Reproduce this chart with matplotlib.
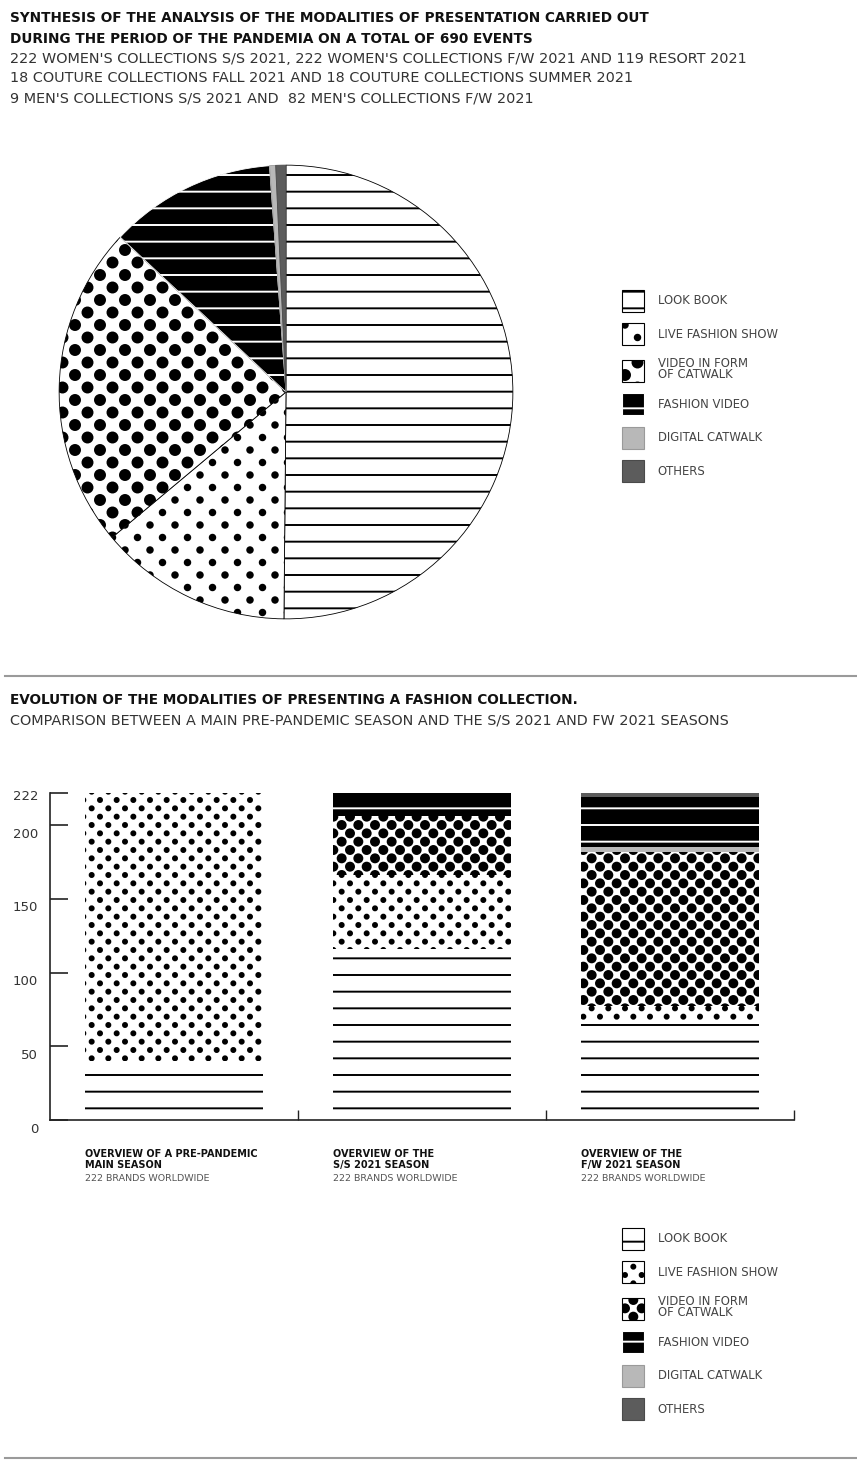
import numpy as np
import matplotlib
matplotlib.use("Agg")
import matplotlib.pyplot as plt
import matplotlib.hatch as mhatch
from matplotlib.path import Path
from matplotlib.patches import Patch
from matplotlib.lines import Line2D
from matplotlib.transforms import ScaledTranslation

# ---- data ----
legend_labels = ["LOOK BOOK", "LIVE FASHION SHOW", "VIDEO IN FORM\nOF CATWALK",
                 "FASHION VIDEO", "DIGITAL CATWALK", "OTHERS"]
# pie: 690 events, clockwise from 12 o'clock, same order as legend
pie_counts = [346, 95, 159, 82, 3, 5]

season_titles = ["OVERVIEW OF A PRE-PANDEMIC\nMAIN SEASON",
                 "OVERVIEW OF THE\nS/S 2021 SEASON",
                 "OVERVIEW OF THE\nF/W 2021 SEASON"]
season_notes = ["222 BRANDS WORLDWIDE", "222 BRANDS WORLDWIDE", "222 BRANDS WORLDWIDE"]
look_book = [40, 116, 68]
live_show = [182, 50, 9]
video_catwalk = [0, 40, 105]
digital_catwalk = [0, 0, 3]
fashion_video = [0, 16, 34]
others = [0, 0, 3]
y_ticks = [0, 50, 100, 150, 200, 222]

W, H = 857, 1461
plt.rcParams["font.family"] = ["DejaVu Sans"]
plt.rcParams["hatch.linewidth"] = 1.4


# filled dot hatches on a staggered grid (replace the stock circle hatches)
def dot_hatch(char, per_inch, size):
    class DotHatch(mhatch.HatchPatternBase):
        def __init__(self, hatch, density):
            self.n = hatch.count(char) * per_inch
            circle = Path.unit_circle()
            self.shape_vertices = circle.vertices
            self.shape_codes = circle.codes
            n = self.n
            self.num_shapes = (n + 1) ** 2 + n ** 2 if n else 0
            self.num_vertices = self.num_shapes * len(self.shape_vertices)

        def set_vertices_and_codes(self, vertices, codes):
            n = self.n
            step = 1.0 / n
            shape = self.shape_vertices * step * size
            parts = []
            for row in range(2 * n + 1):
                if row % 2 == 0:
                    cols = np.linspace(0, 1, n + 1)
                else:
                    cols = np.linspace(step / 2, 1 - step / 2, n)
                for c in cols:
                    parts.append(shape + [c, row * step / 2])
            vertices[:] = np.concatenate(parts)
            codes[:] = np.tile(self.shape_codes, self.num_shapes)
    return DotHatch


mhatch._hatch_types = [t for t in mhatch._hatch_types
                       if t not in (mhatch.SmallCircles, mhatch.LargeCircles,
                                    mhatch.SmallFilledCircles, mhatch.Stars)]
mhatch._hatch_types += [dot_hatch("o", 6, 0.12), dot_hatch("O", 6, 0.24),
                        dot_hatch(".", 4, 0.11), dot_hatch("*", 4, 0.2)]

# styles in legend order: look book, live show, video catwalk, fashion video, digital, others
faces = ["white", "white", "white", "black", "#b8b8b8", "#5c5c5c"]
edges = ["black", "black", "black", "white", "#9a9a9a", "#4a4a4a"]
pie_hatches = ["-", ".", "*", "-", None, None]
bar_hatches = ["-", "o", "O", "-", None, None]

fig = plt.figure(figsize=(W / 100, H / 100), dpi=100)


def fy(py):
    return 1 - py / H


# ---- header texts ----
fig.text(10 / W, fy(18), "SYNTHESIS OF THE ANALYSIS OF THE MODALITIES OF PRESENTATION CARRIED OUT",
         fontsize=9.8, fontweight="bold", color="#111", va="center")
fig.text(10 / W, fy(39), "DURING THE PERIOD OF THE PANDEMIA ON A TOTAL OF 690 EVENTS",
         fontsize=9.8, fontweight="bold", color="#111", va="center")
sub = ["222 WOMEN'S COLLECTIONS S/S 2021, 222 WOMEN'S COLLECTIONS F/W 2021 AND 119 RESORT 2021",
       "18 COUTURE COLLECTIONS FALL 2021 AND 18 COUTURE COLLECTIONS SUMMER 2021",
       "9 MEN'S COLLECTIONS S/S 2021 AND  82 MEN'S COLLECTIONS F/W 2021"]
for s, py in zip(sub, [59, 78, 98]):
    fig.text(10 / W, fy(py), s, fontsize=10.4, color="#333", va="center")

# ---- pie ----
ax1 = fig.add_axes([58 / W, fy(620), 456 / W, 456 / H])
wedges, _ = ax1.pie(pie_counts, startangle=90, counterclock=False, radius=1,
                    colors=faces, hatch=pie_hatches,
                    wedgeprops=dict(linewidth=0.6))
for w, ec in zip(wedges, edges):
    w.set_edgecolor(ec)
ax1.set_xlim(-1.005, 1.005)
ax1.set_ylim(-1.005, 1.005)


def add_legend(hatches, top_px):
    handles = [Patch(facecolor=f, edgecolor=e, hatch=h, linewidth=0.8)
               for f, e, h in zip(faces, edges, hatches)]
    leg = fig.legend(handles=handles, labels=legend_labels, loc="upper left",
                     bbox_to_anchor=(622 / W, fy(top_px)), frameon=False,
                     fontsize=8.4, handlelength=1.85, handleheight=2.5,
                     handletextpad=1.2, labelspacing=1.0,
                     borderpad=0, borderaxespad=0)
    for t in leg.get_texts():
        t.set_color("#444")
        t.set_linespacing(0.85)


add_legend(pie_hatches, 290)

# ---- separators ----
fig.add_artist(Line2D([5 / W, 1], [fy(676), fy(676)], transform=fig.transFigure,
                      color="#9a9a9a", lw=1.5))
fig.add_artist(Line2D([5 / W, 1], [fy(1458), fy(1458)], transform=fig.transFigure,
                      color="#9a9a9a", lw=1.5))

fig.text(10 / W, fy(700), "EVOLUTION OF THE MODALITIES OF PRESENTING A FASHION COLLECTION.",
         fontsize=9.8, fontweight="bold", color="#111", va="center")
fig.text(10 / W, fy(720), "COMPARISON BETWEEN A MAIN PRE-PANDEMIC SEASON AND THE S/S 2021 AND FW 2021 SEASONS",
         fontsize=10.4, color="#333", va="center")

# ---- stacked bars ----
ax2 = fig.add_axes([50 / W, fy(1120), 744 / W, 327.3 / H])
x = np.arange(len(season_titles))
bw = 0.718
bottom = np.zeros(len(x))
# stacking order bottom -> top, with index into the legend styles
stack = [(look_book, 0), (live_show, 1), (video_catwalk, 2),
         (digital_catwalk, 4), (fashion_video, 3), (others, 5)]
for vals, k in stack:
    vals = np.array(vals, dtype=float)
    ax2.bar(x, vals, bw, bottom=bottom, color=faces[k], edgecolor=edges[k],
            hatch=bar_hatches[k], linewidth=0)
    bottom += vals

ax2.set_xlim(-0.5, 2.5)
ax2.set_ylim(0, 222)
for sp in ["top", "right"]:
    ax2.spines[sp].set_visible(False)
for sp in ["left", "bottom"]:
    ax2.spines[sp].set_linewidth(1.2)
    ax2.spines[sp].set_color("#222")
ax2.set_yticks(y_ticks)
ax2.tick_params(axis="y", direction="in", length=13, width=1.2, pad=8.5,
                labelsize=9.5, labelcolor="#333", color="#222")
ax2.set_xticks([0.5, 1.5, 2.5])
ax2.set_xticklabels([])
ax2.tick_params(axis="x", direction="in", length=7, width=1.0, color="#222")
# labels sit a little below their ticks in the original
for v, lbl in zip(y_ticks, ax2.get_yticklabels()):
    dy = -2 if v == 222 else -5.5
    lbl.set_transform(lbl.get_transform() + ScaledTranslation(0, dy / 72, fig.dpi_scale_trans))

for i in range(len(x)):
    ax2.text(x[i] - bw / 2, -0.088, season_titles[i], transform=ax2.get_xaxis_transform(),
             ha="left", va="top", fontsize=7.0, fontweight="bold", color="#111",
             linespacing=1.15)
    ax2.text(x[i] - bw / 2, -0.165, season_notes[i], transform=ax2.get_xaxis_transform(),
             ha="left", va="top", fontsize=6.8, color="#555")

add_legend(bar_hatches, 1228)

fig.savefig("out.png", dpi=100)
